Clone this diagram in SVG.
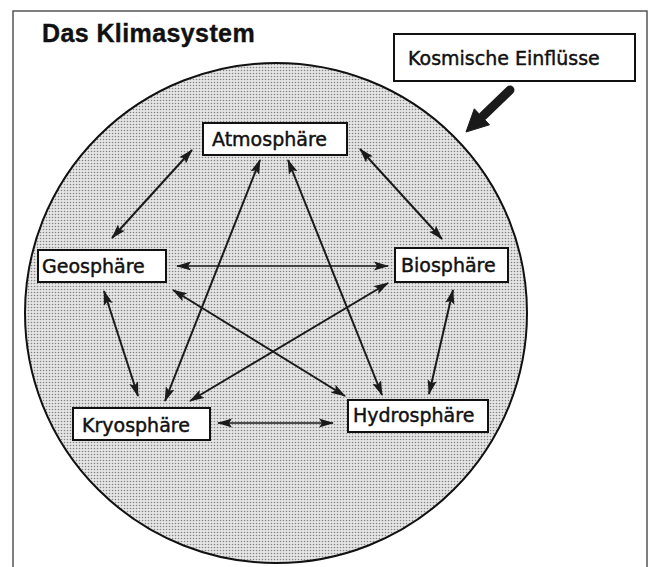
<svg xmlns="http://www.w3.org/2000/svg" width="650" height="567" viewBox="0 0 650 567">
<style>
.frame{fill:none;stroke:#555;stroke-width:1.5}
.box{fill:#fff;stroke:#111;stroke-width:2}
.lbl{font-family:"DejaVu Sans",sans-serif;font-size:19px;fill:#111;stroke:#111;stroke-width:0.45}
.title{font-family:"Liberation Sans",Arial,sans-serif;font-size:25px;font-weight:bold;fill:#111;letter-spacing:0.4px;stroke:#111;stroke-width:0.4}
.con{stroke:#1a1a1a;stroke-width:2;fill:none;marker-start:url(#ah);marker-end:url(#ah)}
.thin{stroke-width:1.7}
</style>
<defs>
<pattern id="dots" width="3" height="3" patternUnits="userSpaceOnUse">
<rect width="3" height="3" fill="#e6e6e6"/>
<circle cx="1.5" cy="1.5" r="0.8" fill="#858585"/>
</pattern>
<marker id="ah" markerUnits="userSpaceOnUse" markerWidth="16" markerHeight="10" refX="14" refY="5" orient="auto-start-reverse" viewBox="0 0 16 10">
<path d="M0,0.4 L15,5 L0,9.6 L3,5 z" fill="#1a1a1a"/>
</marker>
</defs>
<rect width="650" height="567" fill="#fff"/>
<path class="frame" d="M13,580 V11 H647 V580"/>
<text class="title" x="42" y="42">Das Klimasystem</text>
<ellipse id="klimasystem" cx="276" cy="313" rx="251" ry="250" fill="url(#dots)" stroke="#111" stroke-width="2"/>
<g id="kosmisch">
<rect class="box" x="394" y="34" width="241" height="47"/>
<text class="lbl" x="408" y="65">Kosmische Einflüsse</text>
</g>
<g id="einfluss-pfeil">
<line x1="510" y1="90" x2="483" y2="116" stroke="#1a1a1a" stroke-width="9" stroke-linecap="round"/>
<polygon points="489.5,124.8 474.3,108.8 466,132" fill="#1a1a1a" stroke="#1a1a1a" stroke-width="1" stroke-linejoin="round"/>
</g>
<g id="connectors">
<line class="con" x1="192" y1="150" x2="112" y2="238"/>
<line class="con" x1="360" y1="149" x2="442" y2="239"/>
<line class="con" x1="260" y1="160" x2="165" y2="401"/>
<line class="con" x1="288" y1="160" x2="382" y2="395"/>
<line class="con thin" x1="177" y1="266" x2="388" y2="266"/>
<line class="con" x1="104" y1="291" x2="138" y2="396"/>
<line class="con" x1="173" y1="290" x2="345" y2="396"/>
<line class="con" x1="388" y1="283" x2="190" y2="401"/>
<line class="con" x1="453" y1="290" x2="429" y2="394"/>
<line class="con thin" x1="218" y1="423" x2="333" y2="423"/>
</g>
<g id="atmosphaere">
<rect class="box" x="203" y="123" width="144" height="32"/>
<text class="lbl" x="212" y="146">Atmosphäre</text>
</g>
<g id="geosphaere">
<rect class="box" x="38" y="250" width="128" height="32"/>
<text class="lbl" x="42" y="273">Geosphäre</text>
</g>
<g id="biosphaere">
<rect class="box" x="395" y="248" width="113" height="34"/>
<text class="lbl" x="401" y="272">Biosphäre</text>
</g>
<g id="kryosphaere">
<rect class="box" x="73" y="408" width="137" height="32"/>
<text class="lbl" x="82" y="432">Kryosphäre</text>
</g>
<g id="hydrosphaere">
<rect class="box" x="348" y="400" width="140" height="32"/>
<text class="lbl" x="353" y="422">Hydrosphäre</text>
</g>
</svg>
